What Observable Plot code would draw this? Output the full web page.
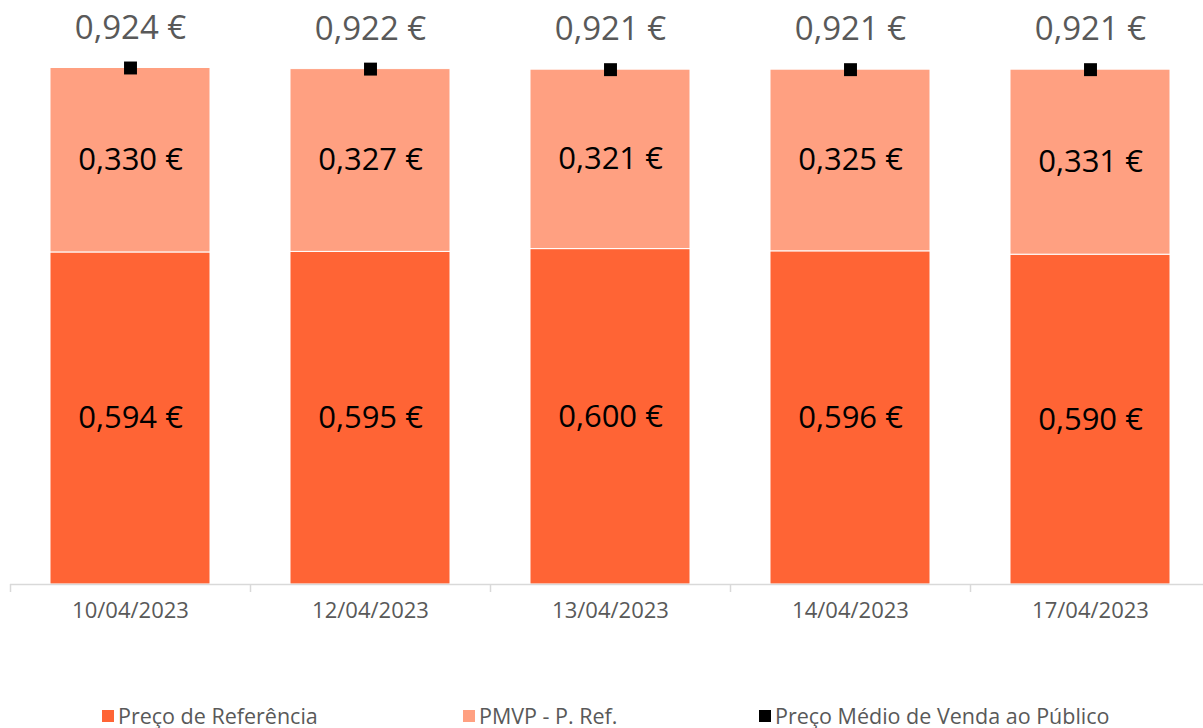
<!DOCTYPE html>
<html>
<head>
<meta charset="utf-8">
<script src="https://cdn.jsdelivr.net/npm/d3@7"></script>
<script src="https://cdn.jsdelivr.net/npm/@observablehq/plot@0.6"></script>
<style>
  html, body { margin: 0; padding: 0; background: #fff; overflow: hidden; }
  body { width: 1203px; height: 728px; font-family: "Open Sans", sans-serif; }
  #legend { position: relative; height: 78px; }
  .item { position: absolute; top: 0; display: flex; align-items: center; color: #595959; font-size: 21.5px; line-height: 22px; height: 22px; white-space: nowrap; }
  .sw { width: 12px; height: 12px; margin-right: 4px; }
</style>
</head>
<body>
<div id="chart"></div>
<div id="legend"></div>
<script>
const dates = ["10/04/2023", "12/04/2023", "13/04/2023", "14/04/2023", "17/04/2023"];
const precoReferencia = [0.594, 0.595, 0.600, 0.596, 0.590];
const pmvpMenosRef = [0.330, 0.327, 0.321, 0.325, 0.331];
const precoMedioVenda = [0.924, 0.922, 0.921, 0.921, 0.921];
const seriesNames = ["Preço de Referência", "PMVP - P. Ref.", "Preço Médio de Venda ao Público"];
const seriesColors = ["#FF6435", "#FFA081", "#000000"];

const fmt = v => v.toFixed(3).replace(".", ",") + " €";

const stacked = [];
dates.forEach((d, i) => {
  stacked.push({date: d, series: seriesNames[0], value: precoReferencia[i]});
  stacked.push({date: d, series: seriesNames[1], value: pmvpMenosRef[i]});
});
const totals = dates.map((d, i) => ({date: d, value: precoMedioVenda[i]}));

const chart = Plot.plot({
  width: 1203,
  height: 650,
  marginTop: 25,
  marginBottom: 66,
  marginLeft: 10,
  marginRight: 0,
  style: {fontFamily: "'Open Sans', sans-serif", background: "#fff", overflow: "hidden"},
  x: {domain: dates, range: [10, 1210], paddingInner: 1/3, paddingOuter: 1/6, align: 0.5, label: null},
  y: {domain: [0, 1], axis: null},
  color: {domain: seriesNames.slice(0, 2), range: seriesColors.slice(0, 2)},
  marks: [
    Plot.barY(stacked, {x: "date", y: "value", fill: "series", order: seriesNames.slice(0, 2), stroke: "#fff", strokeWidth: 1}),
    Plot.text(stacked, Plot.stackY({x: "date", y: "value", z: "series", order: seriesNames.slice(0, 2), text: d => fmt(d.value), fill: "#000", fontSize: 31})),
    Plot.dot(totals, {x: "date", y: "value", symbol: "square", r: 7.3, fill: "#000"}),
    Plot.text(totals, {x: "date", y: "value", text: d => fmt(d.value), dy: -40, fill: "#595959", fontSize: 33}),
    Plot.ruleY([0], {stroke: "#D9D9D9", strokeWidth: 1.5}),
    Plot.ruleX(dates, {x: d => d, y1: 0, y2: 0, dx: -120, insetBottom: -8, stroke: "#D9D9D9", strokeWidth: 1.5}),
    Plot.axisX({tickSize: 0, tickPadding: 18, fontSize: 22, color: "#595959", label: null})
  ]
});
document.getElementById("chart").appendChild(chart);

const legend = document.getElementById("legend");
const legendLeft = [102, 463, 759];
seriesNames.forEach((name, i) => {
  const item = document.createElement("div");
  item.className = "item";
  item.style.left = legendLeft[i] + "px";
  item.style.top = "55px";
  const sw = document.createElement("span");
  sw.className = "sw";
  sw.style.background = seriesColors[i];
  const t = document.createElement("span");
  t.textContent = name;
  item.appendChild(sw);
  item.appendChild(t);
  legend.appendChild(item);
});
</script>
</body>
</html>
